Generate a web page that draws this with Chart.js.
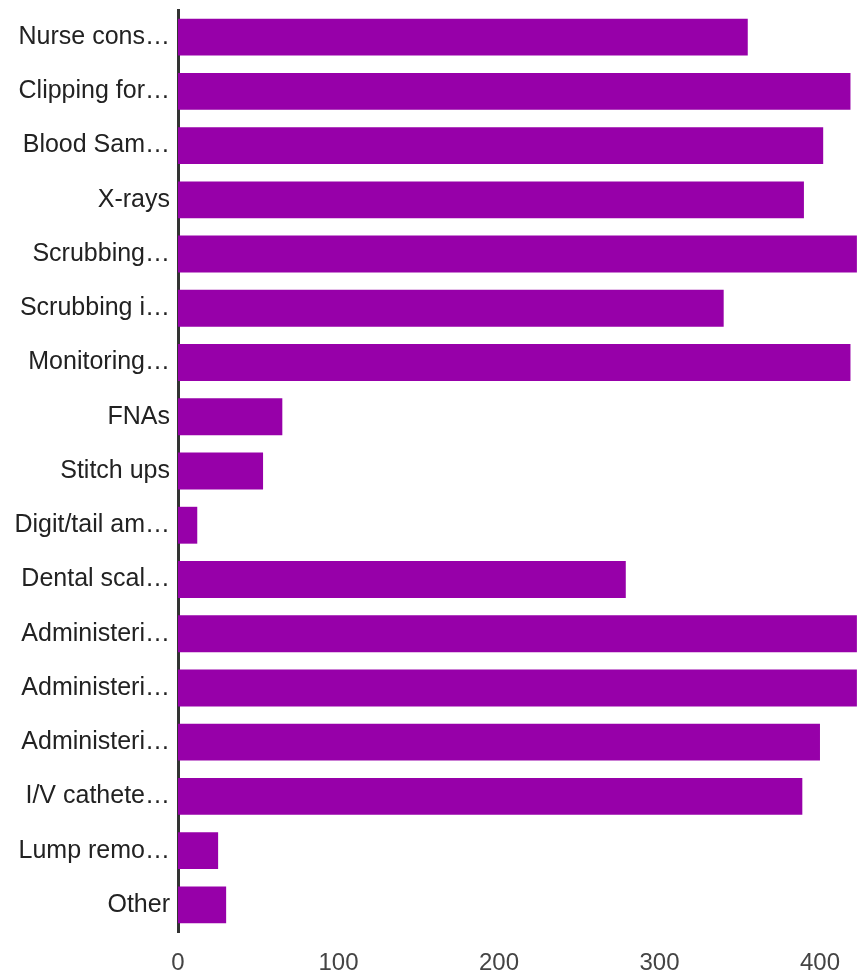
<!DOCTYPE html>
<html>
<head>
<meta charset="utf-8">
<title>Procedures</title>
<script src="https://cdn.jsdelivr.net/npm/chart.js@4/dist/chart.umd.min.js"></script>
<style>
  html, body { margin: 0; padding: 0; background: #fff; }
  #wrap { width: 857px; height: 975px; }
</style>
</head>
<body>
<div id="wrap"><canvas id="myChart" width="857" height="975"></canvas></div>
<script>
'use strict';

// Categories (labels are shown shortened, as on the chart)
var categories = [
  'Nurse cons\u2026', 'Clipping for\u2026', 'Blood Sam\u2026', 'X-rays',
  'Scrubbing\u2026', 'Scrubbing i\u2026', 'Monitoring\u2026', 'FNAs',
  'Stitch ups', 'Digit/tail am\u2026', 'Dental scal\u2026', 'Administeri\u2026',
  'Administeri\u2026', 'Administeri\u2026', 'I/V cathete\u2026', 'Lump remo\u2026',
  'Other'
];

// Responses per category
var counts = [355, 419, 402, 390, 423, 340, 419, 65, 53, 12, 279, 423, 423, 400, 389, 25, 30];

// Value axis ticks
var tickValues = [0, 100, 200, 300, 400];
var axisMax = 423;

var barColor = '#9700a9';
var fontFamily = '"Liberation Sans", Arial, sans-serif';

var ctx = document.getElementById('myChart').getContext('2d');

var chart = new Chart(ctx, {
  type: 'bar',
  data: {
    labels: categories,
    datasets: [
      {
        label: 'Responses',
        backgroundColor: barColor,
        borderWidth: 0,
        data: counts,
        barPercentage: 0.68,
        categoryPercentage: 1
      }
    ]
  },
  options: {
    indexAxis: 'y',
    responsive: false,
    animation: false,
    layout: { padding: 0 },
    plugins: {
      legend: { display: false },
      tooltip: { enabled: false }
    },
    scales: {
      x: {
        min: 0,
        max: axisMax,
        grid: { display: false, drawTicks: false },
        border: { display: false },
        afterBuildTicks: function(axis) {
          axis.ticks = tickValues.map(function(v) { return { value: v }; });
        },
        afterFit: function(axis) {
          axis.height = 43;
        },
        ticks: {
          padding: 17,
          color: '#444',
          font: { family: fontFamily, size: 24 }
        }
      },
      y: {
        grid: { display: false, drawTicks: false },
        border: { display: true, color: '#333', width: 3 },
        afterFit: function(axis) {
          axis.width = 178;
          axis.paddingTop = 10;
        },
        ticks: {
          padding: 8,
          color: '#222',
          autoSkip: false,
          font: { family: fontFamily, size: 25 }
        }
      }
    }
  }
});
</script>
</body>
</html>
